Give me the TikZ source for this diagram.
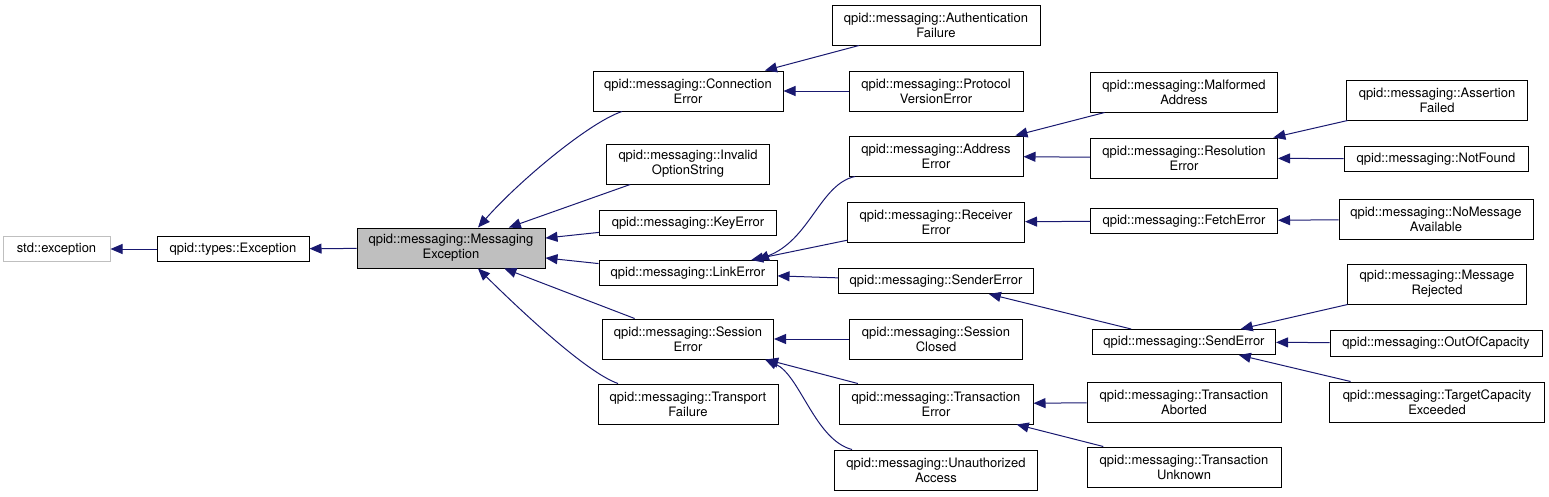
\documentclass[tikz,border=0pt]{standalone}
\usepackage{fontspec}
\setmainfont{TeX Gyre Heros}
\usepackage{xcolor}
\usepackage{tikz}
\usetikzlibrary{arrows.meta,calc}
\definecolor{edgenavy}{HTML}{191970}
\definecolor{extgray}{HTML}{BFBFBF}
\definecolor{selgray}{HTML}{BFBFBF}

\begin{document}
\begin{tikzpicture}[x=1pt,y=-1pt,
    every node/.style={font=\fontsize{13}{15}\selectfont},
    cls/.style={draw=black,line width=1pt,fill=white,align=center,inner sep=0pt,minimum height=40pt},
    cls1/.style={cls,minimum height=25pt},
    inh/.style={draw=edgenavy,line width=1pt,-{Triangle[length=12pt,width=10pt]}}]
  \useasboundingbox (0,0) rectangle (1549,496);
  % Base classes
  \node[cls1,draw=extgray,minimum width=107pt] (stdexc) at (56.5,249) {std::exception};
  \node[cls1,minimum width=152pt] (typesexc) at (233,249) {qpid::types::Exception};
  \node[cls,fill=selgray,minimum width=188pt] (msgexc) at (451,248) {qpid::messaging::Messaging\\Exception};
  % First level
  \node[cls,minimum width=190pt] (connerr) at (688,91) {qpid::messaging::Connection\\Error};
  \node[cls,minimum width=163pt] (invopt) at (688,164) {qpid::messaging::Invalid\\OptionString};
  \node[cls1,minimum width=177pt] (keyerr) at (688,223) {qpid::messaging::KeyError};
  \node[cls1,minimum width=178pt] (linkerr) at (688,273) {qpid::messaging::LinkError};
  \node[cls,minimum width=171pt] (sesserr) at (688,339) {qpid::messaging::Session\\Error};
  \node[cls,minimum width=180pt] (transpfail) at (688,404) {qpid::messaging::Transport\\Failure};
  % Second level
  \node[cls,minimum width=208pt] (authfail) at (936,25) {qpid::messaging::Authentication\\Failure};
  \node[cls,minimum width=174pt] (protoerr) at (936,91) {qpid::messaging::Protocol\\VersionError};
  \node[cls,minimum width=174pt] (addrerr) at (936,156) {qpid::messaging::Address\\Error};
  \node[cls,minimum width=177pt] (recverr) at (936,222) {qpid::messaging::Receiver\\Error};
  \node[cls1,minimum width=195pt] (senderr) at (936,281) {qpid::messaging::SenderError};
  \node[cls,minimum width=173pt] (sessclosed) at (936,339) {qpid::messaging::Session\\Closed};
  \node[cls,minimum width=194pt] (txerr) at (936,404) {qpid::messaging::Transaction\\Error};
  \node[cls,minimum width=203pt] (unauth) at (936,470) {qpid::messaging::Unauthorized\\Access};
  % Third level
  \node[cls,minimum width=187pt] (malformed) at (1184,92) {qpid::messaging::Malformed\\Address};
  \node[cls,minimum width=187pt] (resolerr) at (1184,158) {qpid::messaging::Resolution\\Error};
  \node[cls1,minimum width=187pt] (fetcherr) at (1184,221) {qpid::messaging::FetchError};
  \node[cls1,minimum width=183pt] (senderror) at (1184,342) {qpid::messaging::SendError};
  \node[cls,minimum width=194pt] (txabort) at (1184,402) {qpid::messaging::Transaction\\Aborted};
  \node[cls,minimum width=194pt] (txunknown) at (1184,467) {qpid::messaging::Transaction\\Unknown};
  % Fourth level
  \node[cls,minimum width=181pt] (assertfail) at (1437,100) {qpid::messaging::Assertion\\Failed};
  \node[cls1,minimum width=184pt] (notfound) at (1436,159) {qpid::messaging::NotFound};
  \node[cls,minimum width=194pt] (nomsg) at (1436,219) {qpid::messaging::NoMessage\\Available};
  \node[cls,minimum width=179pt] (msgrej) at (1437,284) {qpid::messaging::Message\\Rejected};
  \node[cls1,minimum width=212pt,minimum height=26pt] (outofcap) at (1436,343) {qpid::messaging::OutOfCapacity};
  \node[cls,minimum width=215pt] (targetcap) at (1437,402) {qpid::messaging::TargetCapacity\\Exceeded};
  % Inheritance edges (child -> parent)
  \draw[inh] (typesexc) -- (stdexc);
  \draw[inh] (msgexc) -- (typesexc);
  \draw[inh] ([xshift=-66pt]connerr.south) .. controls (590,122) and (520,180) .. ([xshift=27pt]msgexc.north);
  \draw[inh] (invopt) -- (msgexc);
  \draw[inh] (keyerr) -- (msgexc);
  \draw[inh] (linkerr) -- (msgexc);
  \draw[inh] (sesserr) -- (msgexc);
  \draw[inh] ([xshift=-70pt]transpfail.north) .. controls (585,372) and (515,305) .. ([xshift=27pt]msgexc.south);
  \draw[inh] (authfail) -- (connerr);
  \draw[inh] (protoerr) -- (connerr);
  \draw[inh] ([xshift=-81pt]addrerr.south) .. controls (820,184) and (810,240) .. ([xshift=69pt]linkerr.north);
  \draw[inh] (recverr) -- (linkerr);
  \draw[inh] (senderr) -- (linkerr);
  \draw[inh] (sessclosed) -- (sesserr);
  \draw[inh] (txerr) -- (sesserr);
  \draw[inh] ([xshift=-84pt]unauth.north) .. controls (815,440) and (800,375) .. ([xshift=77pt]sesserr.south);
  \draw[inh] (malformed) -- (addrerr);
  \draw[inh] (resolerr) -- (addrerr);
  \draw[inh] (fetcherr) -- (recverr);
  \draw[inh] (senderror) -- (senderr);
  \draw[inh] (txabort) -- (txerr);
  \draw[inh] (txunknown) -- (txerr);
  \draw[inh] (assertfail) -- (resolerr);
  \draw[inh] (notfound) -- (resolerr);
  \draw[inh] (nomsg) -- (fetcherr);
  \draw[inh] (msgrej) -- (senderror);
  \draw[inh] (outofcap) -- (senderror);
  \draw[inh] (targetcap) -- (senderror);
\end{tikzpicture}
\end{document}
